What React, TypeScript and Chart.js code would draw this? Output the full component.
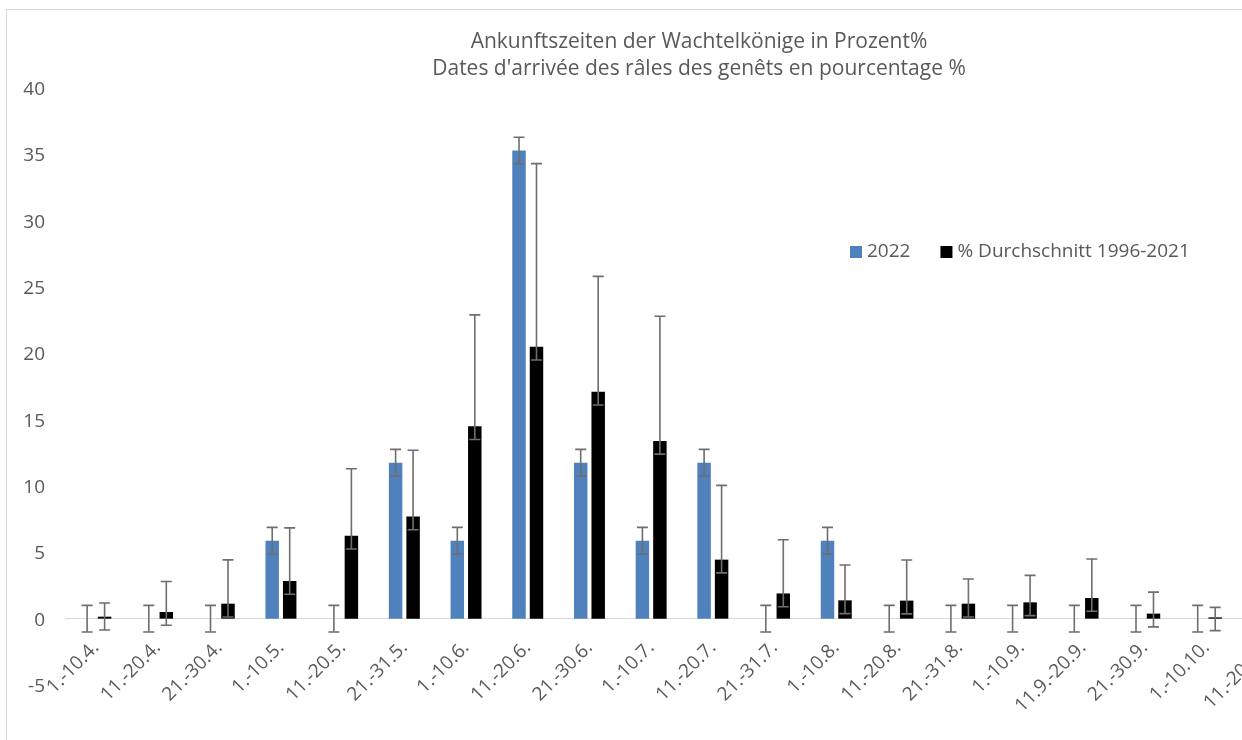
import React, { useEffect, useRef } from 'react';
import { Chart, registerables } from 'chart.js';

Chart.register(...registerables);

const titleLines = [
  'Ankunftszeiten der Wachtelkönige in Prozent%',
  "Dates d'arrivée des râles des genêts en pourcentage %",
];

const categories = [
  '1.-10.4.', '11.-20.4.', '21.-30.4.', '1.-10.5.', '11.-20.5.', '21.-31.5.',
  '1.-10.6.', '11.-20.6.', '21.-30.6.', '1.-10.7.', '11.-20.7.', '21.-31.7.',
  '1.-10.8.', '11.-20.8.', '21.-31.8.', '1.-10.9.', '11.9.-20.9.', '21.-30.9.',
  '1.-10.10.', '11.-20.10.',
];

const label2022 = '2022';
const values2022 = [0, 0, 0, 5.88, 0, 11.76, 5.88, 35.29, 11.76, 5.88, 11.76, 0, 5.88, 0, 0, 0, 0, 0, 0, 0];
const err2022Plus = [1, 1, 1, 1, 1, 1, 1, 1, 1, 1, 1, 1, 1, 1, 1, 1, 1, 1, 1, 1];
const err2022Minus = [1, 1, 1, 1, 1, 1, 1, 1, 1, 1, 1, 1, 1, 1, 1, 1, 1, 1, 1, 1];

const labelAvg = '% Durchschnitt 1996-2021';
const valuesAvg = [0.15, 0.5, 1.13, 2.84, 6.25, 7.7, 14.5, 20.5, 17.1, 13.4, 4.45, 1.9, 1.38, 1.36, 1.13, 1.23, 1.56, 0.38, 0.1, 0.1];
const errAvgPlus = [1.03, 2.3, 3.3, 4.0, 5.05, 5.0, 8.4, 13.8, 8.7, 9.4, 5.6, 4.05, 2.66, 3.06, 1.86, 2.03, 2.94, 1.62, 0.75, 0.8];
const errAvgMinus = [1, 1, 1, 1, 1, 1, 1, 1, 1, 1, 1, 1, 1, 1, 1, 1, 1, 1, 1, 1];

const yMin = -5;
const yMax = 40;
const yStep = 5;

const FONT = "'Open Sans', 'Noto Sans', sans-serif";
const TEXT_COLOR = '#595959';
const BLUE = '#4f81bd';
const BLACK = '#000000';

export default function App() {
  const ref = useRef<HTMLCanvasElement>(null);

  useEffect(() => {
    const canvas = ref.current;
    if (!canvas) return;

    const errPlus = [err2022Plus, errAvgPlus];
    const errMinus = [err2022Minus, errAvgMinus];

    const errorBars = {
      id: 'errorBars',
      afterDatasetsDraw(chart: any) {
        const ctx = chart.ctx;
        const yScale = chart.scales.y;
        ctx.save();
        ctx.strokeStyle = '#6e6e6e';
        ctx.lineWidth = 1.6;
        chart.data.datasets.forEach((ds: any, i: number) => {
          const meta = chart.getDatasetMeta(i);
          meta.data.forEach((bar: any, j: number) => {
            const v = ds.data[j];
            const top = yScale.getPixelForValue(v + errPlus[i][j]);
            const bot = yScale.getPixelForValue(v - errMinus[i][j]);
            const x = bar.x;
            const cap = 5.5;
            ctx.beginPath();
            ctx.moveTo(x, top);
            ctx.lineTo(x, bot);
            ctx.moveTo(x - cap, top);
            ctx.lineTo(x + cap, top);
            ctx.moveTo(x - cap, bot);
            ctx.lineTo(x + cap, bot);
            ctx.stroke();
          });
        });
        ctx.restore();
      },
    };

    const customLegend = {
      id: 'customLegend',
      afterDraw(chart: any) {
        const ctx = chart.ctx;
        ctx.save();
        ctx.font = `19px ${FONT}`;
        ctx.textBaseline = 'middle';
        ctx.textAlign = 'left';
        let x = 843;
        const y = 242;
        const box = 12;
        chart.data.datasets.forEach((ds: any) => {
          ctx.fillStyle = ds.backgroundColor;
          ctx.fillRect(x, y - box / 2, box, box);
          x += box + 5;
          ctx.fillStyle = TEXT_COLOR;
          ctx.fillText(ds.label, x, y);
          x += ctx.measureText(ds.label).width + 30;
        });
        ctx.restore();
      },
    };

    const titleShift = {
      id: 'titleShift',
      afterLayout(chart: any) {
        const t = chart.titleBlock;
        if (t) {
          t.left = 0;
          t.right = 1384;
        }
      },
    };

    const chart = new Chart(canvas, {
      type: 'bar',
      data: {
        labels: categories,
        datasets: [
          {
            label: label2022,
            data: values2022,
            backgroundColor: BLUE,
            borderWidth: 0,
            categoryPercentage: 0.567,
            barPercentage: 0.77,
          },
          {
            label: labelAvg,
            data: valuesAvg,
            backgroundColor: BLACK,
            borderWidth: 0,
            categoryPercentage: 0.567,
            barPercentage: 0.77,
          },
        ],
      },
      options: {
        responsive: false,
        animation: false,
        devicePixelRatio: 1,
        layout: { padding: { left: 0, right: 94, top: 0, bottom: 55 } },
        plugins: {
          legend: { display: false },
          tooltip: { enabled: false },
          title: {
            display: true,
            text: titleLines,
            color: TEXT_COLOR,
            font: { family: FONT, size: 21, weight: 'normal', lineHeight: '27px' },
            padding: { top: 18.5, bottom: 5.5 },
          },
        },
        scales: {
          x: {
            type: 'category',
            position: { y: 0 },
            grid: { display: true, drawOnChartArea: false, drawTicks: false },
            border: { display: true, color: '#d9d9d9', width: 1 },
            ticks: {
              autoSkip: false,
              maxRotation: 45,
              minRotation: 45,
              padding: 18,
              color: TEXT_COLOR,
              font: { family: FONT, size: 19 },
            },
          },
          y: {
            min: yMin,
            max: yMax,
            grid: { display: false, drawTicks: false },
            border: { display: false },
            ticks: {
              stepSize: yStep,
              padding: 20,
              labelOffset: 1.5,
              color: TEXT_COLOR,
              font: { family: FONT, size: 19 },
            },
            afterFit(scale: any) {
              scale.width = 58;
            },
          },
        },
      } as any,
      plugins: [errorBars, customLegend, titleShift],
    });

    return () => chart.destroy();
  }, []);

  return (
    <div
      style={{
        position: 'fixed',
        left: 0,
        top: 0,
        width: 1242,
        height: 740,
        overflow: 'hidden',
        background: '#ffffff',
      }}
    >
      <div
        style={{
          position: 'absolute',
          left: 6,
          top: 9,
          width: 1400,
          height: 760,
          border: '1px solid #d9d9d9',
        }}
      >
        <canvas
          ref={ref}
          width={1386}
          height={730}
          style={{ display: 'block', width: 1386, height: 730 }}
        />
      </div>
    </div>
  );
}
